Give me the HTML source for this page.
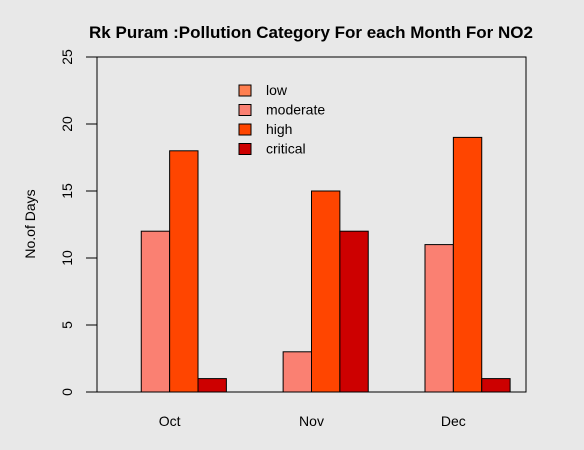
<!DOCTYPE html>
<html><head><meta charset="utf-8"><style>
body{margin:0;background:#e8e8e8;}
svg{display:block;font-family:"Liberation Sans",Arial,sans-serif;}
</style></head><body>
<svg id="chart" width="584" height="450" viewBox="0 0 584 450">
<rect width="584" height="450" fill="#e8e8e8"/>
<text x="311" y="38" text-anchor="middle" font-size="17" font-weight="bold">Rk Puram :Pollution Category For each Month For NO2</text>
<text transform="translate(35,224) rotate(-90)" text-anchor="middle" font-size="14">No.of Days</text>
<g id="bars"></g>
<rect x="97" y="57" width="429" height="335" fill="none" stroke="#000"/>
<g id="yaxis"></g><g id="xlabels"></g><g id="legend"></g>
</svg>
<script>
const months = ["Oct","Nov","Dec"];
const categories = ["low","moderate","high","critical"];
const lowVals = [0,0,0];
const moderateVals = [12,3,11];
const highVals = [18,15,19];
const criticalVals = [1,12,1];
const yTicks = [0,5,10,15,20,25];
const colors = ["#FF7F50","#FA8072","#FF4500","#CD0000"];
const series = [lowVals,moderateVals,highVals,criticalVals];
const NS="http://www.w3.org/2000/svg";
const px0=97, px1=526, py0=392, py1=57;
const nG=months.length, nC=categories.length;
const uMin=1, uMax=nG*(nC+1);
const ext=(uMax-uMin)*0.04;
const xl=uMin-ext, xr=uMax+ext;
const x=u=>px0+(u-xl)/(xr-xl)*(px1-px0);
const y=v=>py0-(v-0)/(25-0)*(py0-py1);
function mk(t,a){const e=document.createElementNS(NS,t);for(const k in a)e.setAttribute(k,a[k]);return e;}
const bars=document.getElementById('bars');
months.forEach((m,g)=>{
  series.forEach((s,c)=>{
    const u=g*(nC+1)+1+c;
    const r=mk('rect',{x:x(u),y:y(s[g]),width:x(u+1)-x(u),height:y(0)-y(s[g]),fill:colors[c],stroke:'#000','stroke-width':1});
    
    
    bars.appendChild(r);
  });
  const t=mk('text',{x:x(g*(nC+1)+1+nC/2),y:426,'text-anchor':'middle','font-size':14});
  t.textContent=m;
  
  
  document.getElementById('xlabels').appendChild(t);
});
const ya=document.getElementById('yaxis');
yTicks.forEach(v=>{
  const l=mk('line',{x1:86,x2:97,y1:y(v),y2:y(v),stroke:'#000'});
  
  
  ya.appendChild(l);
  const t=mk('text',{transform:`translate(72,${y(v)}) rotate(-90)`,'text-anchor':'middle','font-size':14});
  t.textContent=v;
  
  
  ya.appendChild(t);
});
const lg=document.getElementById('legend');
categories.forEach((c,i)=>{
  const yy=90+i*19.5;
  const r=mk('rect',{x:239,y:yy-5,width:12,height:11,fill:colors[i],stroke:'#000'});
  
  
  lg.appendChild(r);
  const t=mk('text',{x:266,y:yy+5,'font-size':14});
  t.textContent=c;
  
  
  lg.appendChild(t);
});
</script>
</body></html>
